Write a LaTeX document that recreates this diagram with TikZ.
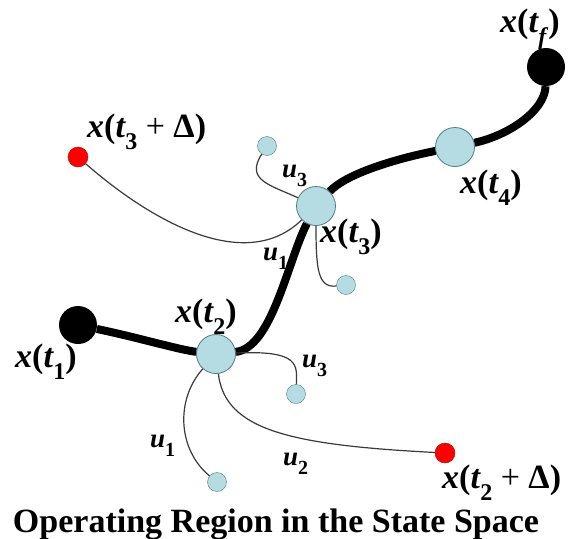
\documentclass[tikz,border=0pt]{standalone}
\usepackage{fontspec}
\setmainfont{Liberation Serif}
\usetikzlibrary{positioning}
\definecolor{StateFill}{HTML}{B4DCE2}
\definecolor{StateLine}{HTML}{4E7C84}
\definecolor{GoalRed}{HTML}{FF0000}
\definecolor{GoalLine}{HTML}{B00000}
\definecolor{CtrlLine}{HTML}{3A3A3A}
\newcommand{\lsub}[1]{\raisebox{-0.36em}{\fontsize{24}{24}\selectfont\bfseries\upshape #1}}
\newcommand{\usub}[1]{\raisebox{-0.36em}{\fontsize{20}{20}\selectfont\bfseries\upshape #1}}
\newcommand{\xof}[2][]{\textit{x}(\textit{t}\kern-0.5pt\lsub{#2}#1)}
\newcommand{\plusd}{\ {\mdseries +}\ Δ}
\tikzset{
  snode/.style={circle, draw=StateLine, thick, fill=StateFill,
    minimum size=39pt, inner sep=0pt},
  cnode/.style={circle, draw=StateLine, thin, fill=StateFill,
    minimum size=19pt, inner sep=0pt},
  bnode/.style={circle, fill=black, minimum size=38pt, inner sep=0pt},
  rnode/.style={circle, draw=GoalLine, thin, fill=GoalRed,
    minimum size=20pt, inner sep=0pt},
  traj/.style={line width=8pt, draw=black},
  ctrl/.style={line width=1.2pt, draw=CtrlLine},
  xlab/.style={font=\fontsize{34}{34}\selectfont\bfseries, inner sep=0pt,
    anchor=base west},
  ulab/.style={font=\fontsize{27}{27}\selectfont\bfseries\itshape, inner sep=0pt,
    anchor=base west},
}
\begin{document}
\begin{tikzpicture}[x=1pt, y=-1pt]
    \useasboundingbox (0,0) rectangle (572,538);
    % states along the path
    \node[bnode] (t1) at (78,325) {};
    \node[snode] (t2) at (216,354) {};
    \node[snode] (t3) at (316,206) {};
    \node[snode] (t4) at (455,147) {};
    \node[bnode] (tf) at (546,67) {};
    % reached states
    \node[rnode] (r3) at (78,157) {};
    \node[rnode] (r2) at (445,453) {};
    \node[cnode] (a3) at (267,146) {};
    \node[cnode] (b3) at (346,285) {};
    \node[cnode] (c2) at (296,394) {};
    \node[cnode] (b2) at (217,482) {};
    % trajectory
    \draw[traj] (t1) .. controls (140,338) and (180,350) .. (t2);
    \draw[traj] (t2) .. controls (272,348) and (288,260) .. (t3);
    \draw[traj] (t3) .. controls (345,175) and (390,160) .. (t4);
    \draw[traj] (t4) .. controls (510,135) and (545,110) .. (tf);
    % controls
    \draw[ctrl] (r3) .. controls (150,220) and (245,275) .. (t3);
    \draw[ctrl] (t3) .. controls (270,185) and (245,180) .. (a3);
    \draw[ctrl] (t3) .. controls (316,270) and (318,288) .. (b3);
    \draw[ctrl] (t2) .. controls (175,400) and (178,450) .. (b2);
    \draw[ctrl] (t2) .. controls (225,430) and (290,445) .. (r2);
    \draw[ctrl] (t2) .. controls (300,350) and (297,365) .. (c2);
    % labels
    \node[xlab] (lt1) at (15,367) {\xof{1}};
    \node[xlab] (lt2) at (175,322) {\xof{2}};
    \node[xlab] (lt3) at (320,242) {\xof{3}};
    \node[xlab] (lt4) at (460,193) {\xof{4}};
    \node[xlab] (ltf) at (500,32) {\xof{\textit{f}}};
    \node[xlab] (lr3) at (87,137) {\xof[\plusd]{3}};
    \node[xlab] (lr2) at (442,488) {\xof[\plusd]{2}};
    \node[ulab] (ua3) at (282,177) {u\usub{3}};
    \node[ulab] (ur3) at (263,260) {u\usub{1}};
    \node[ulab] (ub2) at (150,447) {u\usub{1}};
    \node[ulab] (ur2) at (283,465) {u\usub{2}};
    \node[ulab] (uc2) at (302,367) {u\usub{3}};
    \node[font=\fontsize{34}{36}\selectfont\bfseries, inner sep=0pt, anchor=base]
      (title) at (276,532) {Operating Region in the State Space};
  \end{tikzpicture}
\end{document}
